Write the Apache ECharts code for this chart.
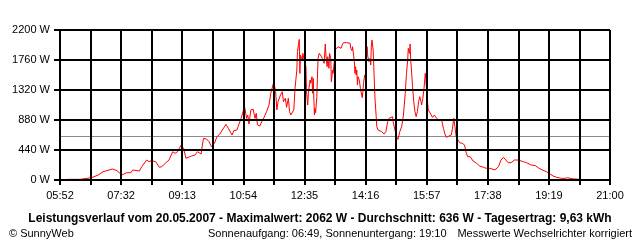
<!DOCTYPE html>
<html><head><meta charset="utf-8">
<script src="https://cdn.jsdelivr.net/npm/echarts@6/dist/echarts.min.js"></script>
<style>html,body{margin:0;padding:0;background:#fff}#c{width:640px;height:240px}</style>
</head><body><div id="c"></div>
<script>
// x axis runs from 05:52 (352 min) to 21:00 (1260 min), 18 divisions
const startMinute = 352;
const endMinute = 1260;
const xDivisions = 18;
const xTickLabels = ['05:52','07:32','09:13','10:54','12:35','14:16','15:57','17:38','19:19','21:00'];
const yMax = 2200;
const yInterval = 440;
const averageW = 636;

// sample times (minutes since midnight) and power in W
const times = [364,385,386,404,407,415,423,433,439,446,454,462,469,472,483,487,495,499,503,510,
516,520,527,532,538,542,546,549,552,556,560,569,575,579,585,587,589,594,598,602,
607,611,616,620,626,630,633,636,639,644,646,651,655,657,660,662,664,667,671,674,
676,678,682,685,689,693,697,700,703,705,707,708,710,712,716,719,721,724,726,729,
731,733,736,738,740,743,744,746,747,748,749,751,752,753,755,756,758,759,760,761,
762,764,765,766,768,769,770,771,772,773,774,776,777,778,780,781,783,785,787,788,
790,791,793,794,796,797,799,800,802,803,805,806,809,811,814,816,818,820,822,825,
828,831,832,834,835,837,838,839,840,841,842,843,844,846,848,849,851,852,853,855,
857,858,859,860,862,864,865,866,867,869,870,872,874,875,877,879,883,887,890,893,
895,898,901,902,905,908,910,913,916,919,922,924,926,927,929,930,931,933,934,936,
938,940,942,944,946,948,949,951,953,955,956,958,960,962,965,967,970,974,978,982,
985,988,990,994,998,1000,1002,1004,1006,1009,1012,1016,1020,1021,1022,1025,1029,1034,1040,1045,
1051,1056,1062,1065,1070,1076,1080,1084,1088,1092,1097,1102,1108,1111,1117,1122,1130,1137,1143,1148,
1155,1161,1166,1172,1180,1186,1190,1196,1202,1209];
const watts = [10,10,34,34,48,73,122,147,161,137,73,107,107,147,132,196,293,269,284,269,
186,196,254,293,415,391,415,415,513,464,318,352,367,415,381,513,611,601,562,489,
538,635,675,733,816,758,763,660,724,733,782,904,1027,1066,904,953,821,1027,1036,904,
978,807,792,855,919,1002,1100,1271,1295,1442,1467,1295,1027,1149,1247,1295,1149,1198,1066,1198,
1002,953,929,1027,1345,1613,1882,2005,2062,1564,1833,1857,1760,1857,1760,1784,1662,1295,1320,1100,
1271,1418,1467,1418,1515,1271,1491,1467,953,1051,987,1222,1491,1784,1857,1833,1818,1784,1769,1711,
1995,1833,1662,1808,1638,1857,1784,1442,1613,1564,1760,1907,1931,1955,1980,1931,1980,2014,1995,2014,
2005,2005,1931,1896,1955,1965,1735,1564,1662,1540,1613,1393,1515,1467,1345,1295,1207,1295,1418,1540,
1467,1808,1955,1818,1735,1784,1687,1955,2053,1907,1662,1198,929,782,733,733,709,675,709,855,
904,904,929,855,733,626,596,709,782,953,1271,1564,1760,1931,1857,1995,1760,1515,1369,1149,
1002,929,1002,1149,1222,1149,1100,1198,1345,1564,1467,1222,1027,1002,953,919,953,904,870,880,
758,660,626,645,660,758,904,782,635,587,547,538,513,498,415,342,342,279,244,205,
186,171,171,147,147,196,293,333,293,254,254,293,293,269,269,254,220,210,171,147,
122,88,59,39,24,24,34,20,15,10];

const titleText = 'Leistungsverlauf vom 20.05.2007 - Maximalwert: 2062 W - Durchschnitt: 636 W - Tagesertrag: 9,63 kWh';
const footLeft = '\u00A9 SunnyWeb';
const footMid = 'Sonnenaufgang: 06:49, Sonnenuntergang: 19:10';
const footRight = 'Messwerte Wechselrichter korrigiert';

const span = endMinute - startMinute;
const xInterval = span / xDivisions;
const seriesData = times.map((t, i) => [t - startMinute, watts[i]]);
const FONT = 'Liberation Sans, Arial, sans-serif';

const chart = echarts.init(document.getElementById('c'), null, {renderer: 'canvas'});
chart.setOption({
  animation: false,
  backgroundColor: '#fff',
  textStyle: {fontFamily: FONT},
  title: [
    {text: titleText, left: 'center', top: 208,
     textStyle: {fontSize: 12, fontWeight: 'bold', color: '#000', fontFamily: FONT}},
    {text: footLeft, left: 4, top: 223,
     textStyle: {fontSize: 11, fontWeight: 'normal', color: '#000', fontFamily: FONT}},
    {text: footMid, left: 203, top: 223,
     textStyle: {fontSize: 11, fontWeight: 'normal', color: '#000', fontFamily: FONT}},
    {text: footRight, right: 3, top: 223,
     textStyle: {fontSize: 11, fontWeight: 'normal', color: '#000', fontFamily: FONT}}
  ],
  grid: {left: 60, right: 30, top: 30, bottom: 60, containLabel: false},
  xAxis: {
    type: 'value', min: 0, max: span, interval: xInterval, z: 5,
    axisLine: {show: true, lineStyle: {color: '#000', width: 2}},
    axisTick: {show: true, inside: false, length: 5, lineStyle: {color: '#000', width: 2}},
    splitLine: {show: true, lineStyle: {color: '#000', width: 2}},
    axisLabel: {
      color: '#000', fontSize: 11, fontFamily: FONT, margin: 10, showMinLabel: true, showMaxLabel: true,
      formatter: function (v) {
        const idx = v / xInterval;
        const r = Math.round(idx);
        if (Math.abs(idx - r) > 0.01 || r % 2 !== 0) return '';
        return xTickLabels[r / 2] || '';
      }
    }
  },
  yAxis: {
    type: 'value', min: 0, max: yMax, interval: yInterval, z: 5,
    axisLine: {show: true, lineStyle: {color: '#000', width: 2}},
    axisTick: {show: true, inside: false, length: 6, lineStyle: {color: '#000', width: 2}},
    splitLine: {show: true, lineStyle: {color: '#000', width: 2}},
    axisLabel: {color: '#000', fontSize: 11, fontFamily: FONT, margin: 10,
      formatter: function (v) { return String(Math.round(v)) + ' W'; }}
  },
  series: [{
    type: 'line',
    data: seriesData,
    showSymbol: false,
    symbol: 'none',
    lineStyle: {color: '#ff0000', width: 1},
    z: 3,
    markLine: {
      silent: true, symbol: ['none', 'none'], label: {show: false},
      lineStyle: {color: '#8c8c8c', width: 1, type: 'solid'},
      data: [{yAxis: averageW}],
      z: 2
    }
  }]
});
</script>
</body></html>
